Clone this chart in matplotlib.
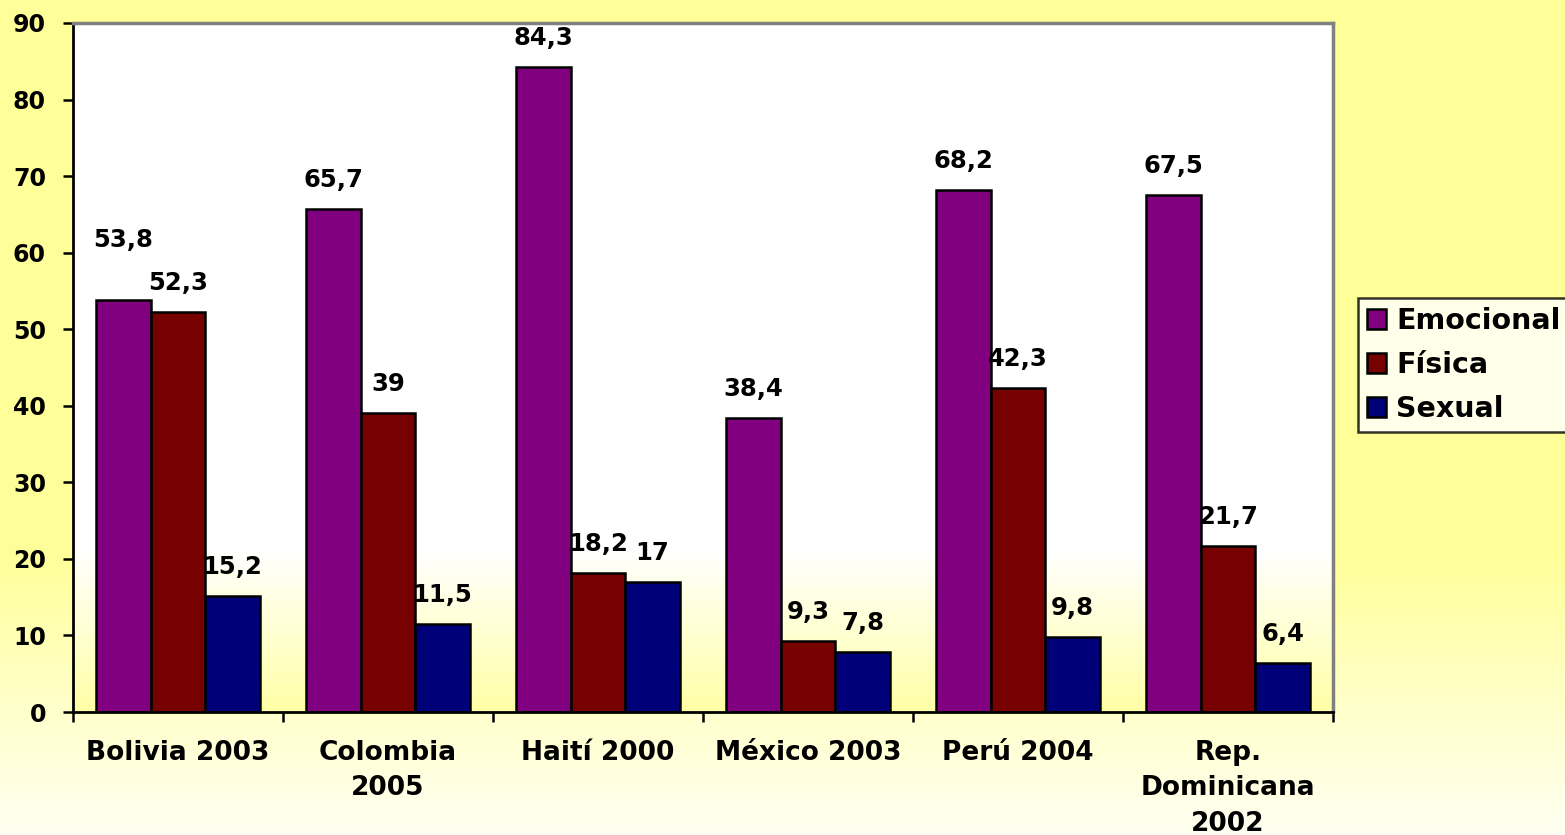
# grouped bar chart: violencia emocional / fisica / sexual por pais

import numpy as np
import matplotlib.pyplot as plt
from matplotlib.colors import LinearSegmentedColormap

paises = ["Bolivia 2003", "Colombia\n2005", "Haití 2000", "México 2003", "Perú 2004",
          "Rep.\nDominicana\n2002"]
emocional = [53.8, 65.7, 84.3, 38.4, 68.2, 67.5]
fisica = [52.3, 39, 18.2, 9.3, 42.3, 21.7]
sexual = [15.2, 11.5, 17, 7.8, 9.8, 6.4]
series = ["Emocional", "Física", "Sexual"]
colores = ["#800080", "#770000", "#000078"]

plt.rcParams['font.family'] = ['DejaVu Sans']
plt.rcParams['font.weight'] = 'bold'

fig = plt.figure(figsize=(15.65, 8.35), dpi=100)

# fondo del slide: amarillo arriba, casi blanco abajo
bg = fig.add_axes([0, 0, 1, 1], zorder=-10)
grad = np.ones((835, 1))
grad[550:, 0] = np.linspace(1, 0, 835 - 550)
cmap_bg = LinearSegmentedColormap.from_list("bg", ["#FFFFF2", "#FFFF99"])
bg.imshow(grad, aspect="auto", cmap=cmap_bg, vmin=0, vmax=1, extent=[0, 1, 0, 1])
bg.axis("off")

ax = fig.add_axes([73 / 1565, 1 - 712 / 835, (1333 - 73) / 1565, (712 - 23) / 835])
ax.set_facecolor("none")

# fondo del area de trazado: blanco arriba, amarillo claro abajo
pg = np.zeros((100, 1))
n0 = int(100 * (550 - 23) / (712 - 23))
pg[n0:, 0] = np.linspace(0, 1, 100 - n0)
cmap_pa = LinearSegmentedColormap.from_list("pa", ["#FFFFFF", "#FFFFA8"])
ax.imshow(pg, aspect="auto", cmap=cmap_pa, vmin=0, vmax=1,
          extent=[-0.5, len(paises) - 0.5, 0, 90], zorder=0)

x = np.arange(len(paises))
w = 0.26
for i, (vals, nombre, col) in enumerate(zip([emocional, fisica, sexual], series, colores)):
    pos = x + (i - 1) * w
    ax.bar(pos, vals, w, color=col, edgecolor="black", linewidth=1.8,
           label=nombre, zorder=2)
    for p, v in zip(pos, vals):
        txt = f"{v:g}".replace(".", ",")
        dy = 60 if (nombre == "Emocional" and p < 0.5) else 29
        ax.annotate(txt, (p, v), xytext=(0, dy * 0.72), textcoords="offset points",
                    ha="center", va="center", fontsize=17.5, fontweight="bold",
                    zorder=3)

ax.set_xlim(-0.5, len(paises) - 0.5)
ax.set_ylim(0, 90)
ax.set_yticks(range(0, 91, 10))
ax.tick_params(axis="y", direction="out", length=7.5, width=1.8, labelsize=17, pad=12)
ax.set_xticks(np.arange(len(paises) + 1) - 0.5)
ax.set_xticklabels([])
ax.set_xticks(x, minor=True)
ax.set_xticklabels(paises, minor=True, fontsize=19, fontweight="bold")
ax.tick_params(axis="x", which="major", direction="out", length=7, width=1.8)
ax.tick_params(axis="x", which="minor", length=0, pad=20)
for t in ax.get_xticklabels(minor=True):
    t.set_linespacing(1.47)

for s in ["left", "bottom"]:
    ax.spines[s].set_color("black")
    ax.spines[s].set_linewidth(2)
for s in ["top", "right"]:
    ax.spines[s].set_color("#808080")
    ax.spines[s].set_linewidth(2.5)

leg = fig.legend(loc="upper left", bbox_to_anchor=(1358 / 1565, 1 - 298 / 835),
                 frameon=True, fancybox=False, fontsize=20.5, handlelength=0.68,
                 handleheight=0.68, handletextpad=0.35, labelspacing=0.56,
                 borderpad=0.32, borderaxespad=0)
leg.get_frame().set_edgecolor("black")
leg.get_frame().set_linewidth(1.8)
leg.get_frame().set_facecolor("white")
for h in leg.legend_handles:
    h.set_edgecolor("black")
    h.set_linewidth(1.8)

fig.savefig("out.png", dpi=100)
